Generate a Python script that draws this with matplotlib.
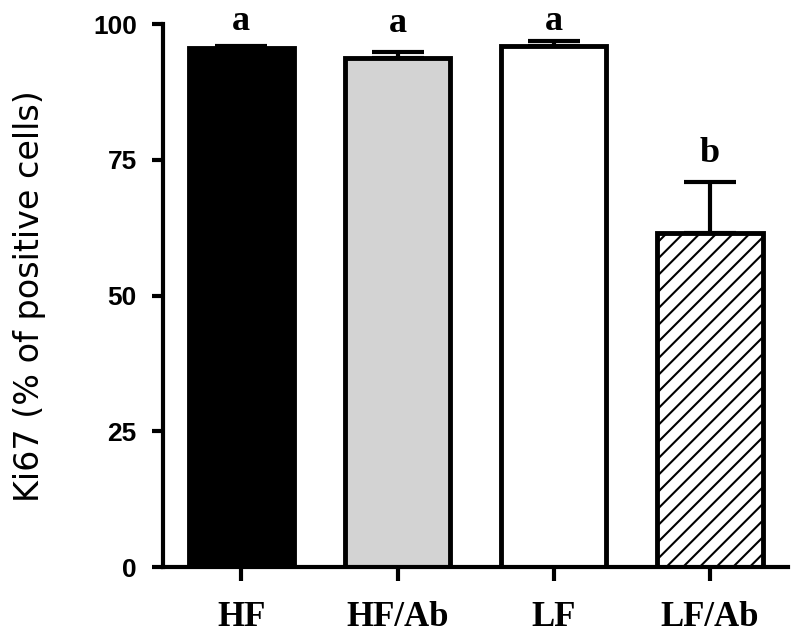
import matplotlib
matplotlib.use("Agg")
import matplotlib.pyplot as plt
import numpy as np

categories = ["HF", "HF/Ab", "LF", "LF/Ab"]
means = [95.6, 93.7, 96.0, 61.5]
errors = [0.4, 1.1, 0.9, 9.4]
letters = ["a", "a", "a", "b"]
facecolors = ["#000000", "#d3d3d3", "#ffffff", "#ffffff"]
hatches = [None, None, None, "//"]

plt.rcParams['hatch.linewidth'] = 1.5

fig = plt.figure(figsize=(8, 6.38), dpi=100)
ax = fig.add_axes([0.204, 0.111, 0.781, 0.851])

x = np.arange(len(categories))
bars = ax.bar(x, means, width=0.675, color=facecolors, edgecolor="black",
              linewidth=3.5, zorder=2)
for b, h in zip(bars, hatches):
    if h:
        b.set_hatch(h)

ax.errorbar(x, means, yerr=[np.zeros(len(errors)), errors], fmt="none",
            ecolor="black", elinewidth=3, capsize=19, capthick=3, zorder=1)

for xi, m, e, l in zip(x, means, errors, letters):
    ax.text(xi, min(m + e + 3.7, 98.9), l, ha="center", va="baseline", fontsize=26,
            fontweight="bold", family="Liberation Serif")

ax.set_xlim(-0.5, 3.5)
ax.set_ylim(0, 100)
ax.set_yticks([0, 25, 50, 75, 100])
ax.set_xticks(x)
ax.set_xticklabels(categories, fontsize=25, fontweight="bold", family="Liberation Serif")
for lab in ax.get_yticklabels():
    lab.set_fontsize(19)
    lab.set_fontweight("bold")
    lab.set_family("Liberation Sans")
ax.tick_params(axis="y", length=8, width=3, pad=11)
ax.tick_params(axis="x", length=10, width=3, pad=14)
ax.set_ylabel("Ki67 (% of positive cells)", fontsize=24, family="DejaVu Sans", labelpad=34)

for s in ["top", "right"]:
    ax.spines[s].set_visible(False)
for s in ["left", "bottom"]:
    ax.spines[s].set_linewidth(3)
ax.spines["left"].set_bounds(0, 100)

fig.savefig("out.png", dpi=100)
